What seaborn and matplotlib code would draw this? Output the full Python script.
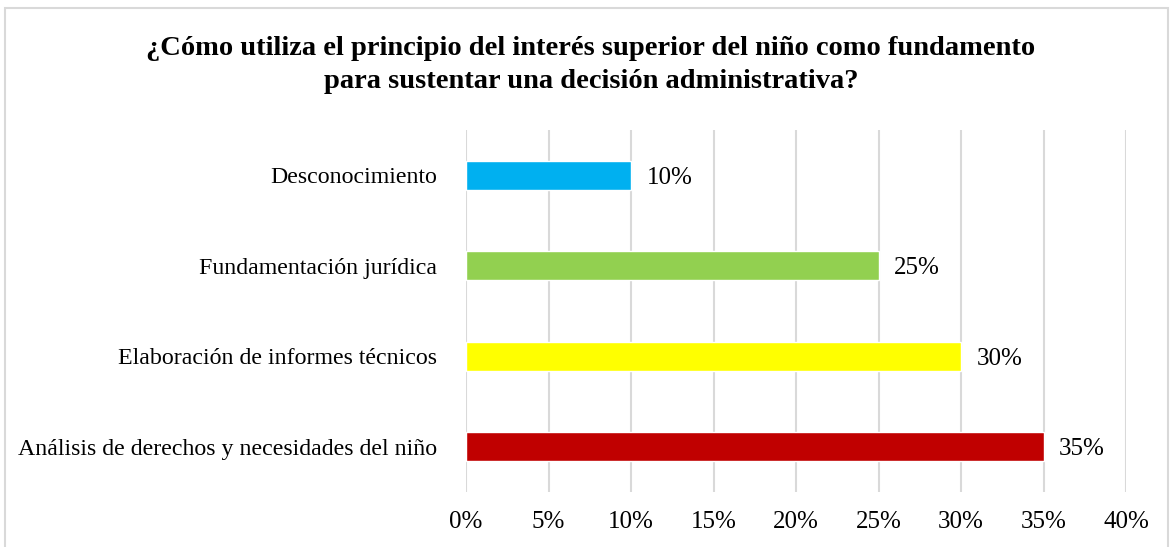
import matplotlib
matplotlib.use("Agg")
import matplotlib.pyplot as plt
import seaborn as sns
import pandas as pd
from matplotlib.patches import Rectangle

# datos
categorias = ["Desconocimiento", "Fundamentación jurídica",
              "Elaboración de informes técnicos",
              "Análisis de derechos y necesidades del niño"]
valores = [10, 25, 30, 35]
colores = ["#00B0F0", "#92D050", "#FFFF00", "#C00000"]
ticks = [0, 5, 10, 15, 20, 25, 30, 35, 40]
titulo = ("¿Cómo utiliza el principio del interés superior del niño como fundamento\n"
          "para sustentar una decisión administrativa?")

sns.set_theme(style="white")
plt.rcParams['font.family'] = ['Liberation Serif', 'DejaVu Serif']
plt.rcParams['text.color'] = 'black'

df = pd.DataFrame({"cat": categorias, "val": valores})

fig = plt.figure(figsize=(11.74, 5.47), dpi=100)
ax = fig.add_axes([466 / 1174, 1 - 492 / 547, 660 / 1174, 362 / 547])

sns.barplot(data=df, x="val", y="cat", hue="cat", palette=colores,
            width=0.32, legend=False, ax=ax, saturation=1)

ax.set_xlim(0, 40)
ax.set_xticks(ticks)
ax.set_xticklabels([f"{t}%" for t in ticks])
ax.grid(axis="x", color="#d9d9d9", linewidth=1.5)
ax.set_axisbelow(True)
for s in ax.spines.values():
    s.set_visible(False)
ax.tick_params(axis="both", length=0, labelsize=17.2, colors="black")
ax.tick_params(axis="x", labelsize=18, pad=14)
ax.tick_params(axis="y", pad=21)
ax.set_xlabel("")
ax.set_ylabel("")

for i, v in enumerate(valores):
    ax.text(v + 0.95, i + 0.03, f"{v}%", va="center", ha="left", fontsize=18, color="black")

fig.text(591 / 1174, 1 - 65 / 547, titulo, ha="center", va="center",
         fontsize=20.5, fontweight="bold", linespacing=1.45, color="black")

# borde del área del gráfico
fig.patches.append(Rectangle((5 / 1174, -0.05), 1163 / 1174, 1 - 8 / 547 + 0.05,
                             transform=fig.transFigure, fill=False,
                             edgecolor="#d9d9d9", linewidth=1.5))

fig.savefig("out.png", dpi=100)
